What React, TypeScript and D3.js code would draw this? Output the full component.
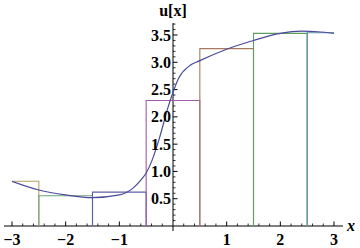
import React from "react";
import * as d3 from "d3";

const curveX = [-3, -2.5, -2, -1.5, -1.0, -0.75, -0.6, -0.5, -0.4, -0.25, -0.1, 0, 0.1, 0.3, 0.5, 1.0, 1.5, 2.0, 2.4, 2.7, 3.0];
const curveU = [0.82, 0.66, 0.57, 0.52, 0.57, 0.69, 0.84, 0.97, 1.18, 1.62, 2.15, 2.45, 2.7, 2.93, 3.03, 3.24, 3.4, 3.53, 3.57, 3.56, 3.53];

const barLeft = [-3.5, -2.5, -1.5, -0.5, 0.5, 1.5, 2.5];
const barRight = [-2.5, -1.5, -0.5, 0.5, 1.5, 2.5, 3.5];
const barHeight = [0.82, 0.555, 0.62, 2.3, 3.25, 3.53, 3.54];
const barColors = ["#b9a062", "#6aa37c", "#5e5eaa", "#9d5ca6", "#a87a5a", "#5e9e5e", "#5e8eaa"];

const xTickValues = [-3, -2, -1, 1, 2, 3];
const yTickValues = [0.5, 1.0, 1.5, 2.0, 2.5, 3.0, 3.5];

export default function App() {
  const W = 360, H = 248;
  const x = d3.scaleLinear().domain([-3, 3]).range([12, 334]);
  const y = d3.scaleLinear().domain([0, 3.5]).range([226, 35]);
  const x0 = x(0), y0 = y(0);

  const line = d3
    .line<number>()
    .x((_, i) => x(curveX[i]))
    .y((d) => y(d))
    .curve(d3.curveMonotoneX);

  const xMinor = d3.range(-15, 16).map((i) => i / 5).filter((v) => Math.abs(v - Math.round(v)) > 1e-6);
  const yMinor = d3.range(1, 38).map((i) => i / 10).filter((v) => Math.abs(v * 2 - Math.round(v * 2)) > 1e-6);

  const font = "Liberation Serif";

  return (
    <svg width={W} height={H} style={{ position: "absolute", left: 0, top: 0, background: "#fff" }}>
      <defs>
        <clipPath id="plotclip">
          <rect x={x(-3)} y={0} width={x(3) - x(-3)} height={y0 + 0.5} />
        </clipPath>
      </defs>
      <line x1={4} x2={343} y1={y0} y2={y0} stroke="#000" strokeWidth={1} />
      <line x1={x0} x2={x0} y1={y0 + 5} y2={23} stroke="#000" strokeWidth={1} />
      {xTickValues.map((v) => (
        <line key={"xt" + v} x1={x(v)} x2={x(v)} y1={y0} y2={y0 - 4.5} stroke="#000" strokeWidth={1} />
      ))}
      {xMinor.map((v) => (
        <line key={"xm" + v} x1={x(v)} x2={x(v)} y1={y0} y2={y0 - 2.5} stroke="#000" strokeWidth={0.8} />
      ))}
      {yTickValues.map((v) => (
        <line key={"yt" + v} x1={x0} x2={x0 + 4.5} y1={y(v)} y2={y(v)} stroke="#000" strokeWidth={1} />
      ))}
      {yMinor.map((v) => (
        <line key={"ym" + v} x1={x0} x2={x0 + 2.5} y1={y(v)} y2={y(v)} stroke="#000" strokeWidth={0.8} />
      ))}
      <g clipPath="url(#plotclip)">
        {barLeft.map((l, i) => {
          const r = barRight[i];
          const h = barHeight[i];
          const p = `M${x(l)},${y(0)}L${x(l)},${y(h)}L${x(r)},${y(h)}L${x(r)},${y(0)}`;
          return <path key={"b" + i} d={p} fill="none" stroke={barColors[i]} strokeWidth={1.1} />;
        })}
        <path d={line(curveU) || ""} fill="none" stroke="#4a4a9c" strokeWidth={1.2} />
      </g>
      {xTickValues.map((v) => (
        <text key={"xl" + v} x={x(v)} y={245} textAnchor="middle" fontFamily={font} fontWeight={700} fontSize={16}>
          {v < 0 ? "\u2212" + Math.abs(v) : String(v)}
        </text>
      ))}
      {yTickValues.map((v) => (
        <text key={"yl" + v} x={x0 - 2} y={y(v) + 5.5} textAnchor="end" fontFamily={font} fontWeight={700} fontSize={16}>
          {v.toFixed(1)}
        </text>
      ))}
      <text x={x0} y={16} textAnchor="middle" fontFamily={font} fontWeight={700} fontSize={16}>u[x]</text>
      <text x={347} y={231} fontFamily={font} fontStyle="italic" fontWeight={700} fontSize={16}>x</text>
    </svg>
  );
}
